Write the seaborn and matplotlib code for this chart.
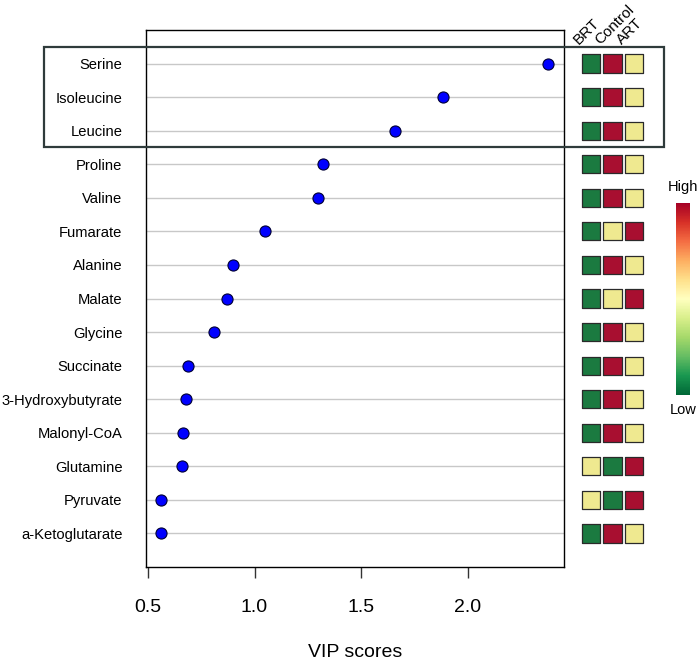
import pandas as pd
import matplotlib.pyplot as plt
import matplotlib as mpl
import seaborn as sns
from matplotlib.patches import Rectangle
from matplotlib.transforms import blended_transform_factory

# Datos del grafico
metabolites = ["Serine", "Isoleucine", "Leucine", "Proline", "Valine", "Fumarate",
               "Alanine", "Malate", "Glycine", "Succinate", "3-Hydroxybutyrate",
               "Malonyl-CoA", "Glutamine", "Pyruvate", "a-Ketoglutarate"]
vip = [2.38, 1.885, 1.66, 1.32, 1.30, 1.05, 0.90, 0.87, 0.81, 0.69, 0.68,
       0.665, 0.66, 0.56, 0.56]
groups = ["BRT", "Control", "ART"]
# 0 = Low, 1 = Mid, 2 = High
brt_level = [0, 0, 0, 0, 0, 0, 0, 0, 0, 0, 0, 0, 1, 1, 0]
control_level = [2, 2, 2, 2, 2, 1, 2, 1, 2, 2, 2, 2, 0, 0, 2]
art_level = [1, 1, 1, 1, 1, 2, 1, 2, 1, 1, 1, 1, 2, 2, 1]
level_colors = {0: "#1b7a40", 1: "#efe990", 2: "#a80f30"}

sns.set_style("white")
plt.rcParams["font.family"] = ["Liberation Sans", "DejaVu Sans"]
plt.rcParams["text.color"] = "black"
plt.rcParams["axes.labelcolor"] = "black"
plt.rcParams["xtick.color"] = "black"
plt.rcParams["ytick.color"] = "black"

n = len(metabolites)
pos = list(range(n, 0, -1))
df = pd.DataFrame({"metabolite": metabolites, "vip": vip, "pos": pos})

fig = plt.figure(figsize=(7, 6.61), dpi=100)
ax = fig.add_axes([146 / 700, 1 - 567 / 661, 418 / 700, 537 / 661])

for p in pos:
    ax.axhline(p, color="#c8c8c8", lw=1, zorder=0)

sns.scatterplot(data=df, x="vip", y="pos", ax=ax, color="#0000ff",
                edgecolor="#000033", linewidth=0.8, s=64, zorder=3, legend=False)

ax.set_xlim(0.4906, 2.453)
ax.set_ylim(0, 16)
ax.set_xticks([0.5, 1.0, 1.5, 2.0])
ax.set_xticklabels(["0.5", "1.0", "1.5", "2.0"], fontsize=14)
ax.set_yticks(pos)
ax.set_yticklabels(metabolites, fontsize=10.6)
ax.tick_params(axis="x", direction="out", length=8, width=1, pad=15, color="#333333", bottom=True)
ax.tick_params(axis="y", length=0, pad=17)
ax.set_xlabel("VIP scores", fontsize=14, labelpad=20)
ax.set_ylabel("")
for sp in ax.spines.values():
    sp.set_visible(True)
    sp.set_color("black")
    sp.set_linewidth(1)

# Recuadro de los tres primeros
tr = blended_transform_factory(fig.transFigure, ax.transData)
fig.patches.append(Rectangle((44 / 700, 12.5), 620 / 700, 3.0, transform=tr,
                             fill=False, edgecolor="#2f3b3b", lw=1.6, zorder=10))

# Mapa de calor de grupos
heat = pd.DataFrame({
    "x": [i for i in range(3) for _ in range(n)],
    "pos": pos * 3,
    "level": brt_level + control_level + art_level,
})
ax2 = fig.add_axes([569 / 700, 1 - 567 / 661, 87 / 700, 537 / 661])
sns.scatterplot(data=heat, x="x", y="pos", hue="level", palette=level_colors,
                marker="s", s=172, edgecolor="#2a2a2a", linewidth=0.9,
                ax=ax2, legend=False)
ax2.set_xlim(-1, 3)
ax2.set_ylim(0, 16)
ax2.axis("off")
for i, g in enumerate(groups):
    ax2.text(i - 0.45, 15.5, g, rotation=45, rotation_mode="anchor",
             ha="left", va="bottom", fontsize=11)

# Barra de color
cax = fig.add_axes([676 / 700, 1 - 395 / 661, 14 / 700, 192 / 661])
sm = mpl.cm.ScalarMappable(cmap="RdYlGn_r", norm=mpl.colors.Normalize(0, 1))
cb = fig.colorbar(sm, cax=cax)
cb.outline.set_visible(False)
cb.set_ticks([])
fig.text(683 / 700, 1 - 187 / 661, "High", ha="center", va="center", fontsize=10.5)
fig.text(683 / 700, 1 - 410 / 661, "Low", ha="center", va="center", fontsize=10.5)

fig.savefig("out.png", dpi=100)
